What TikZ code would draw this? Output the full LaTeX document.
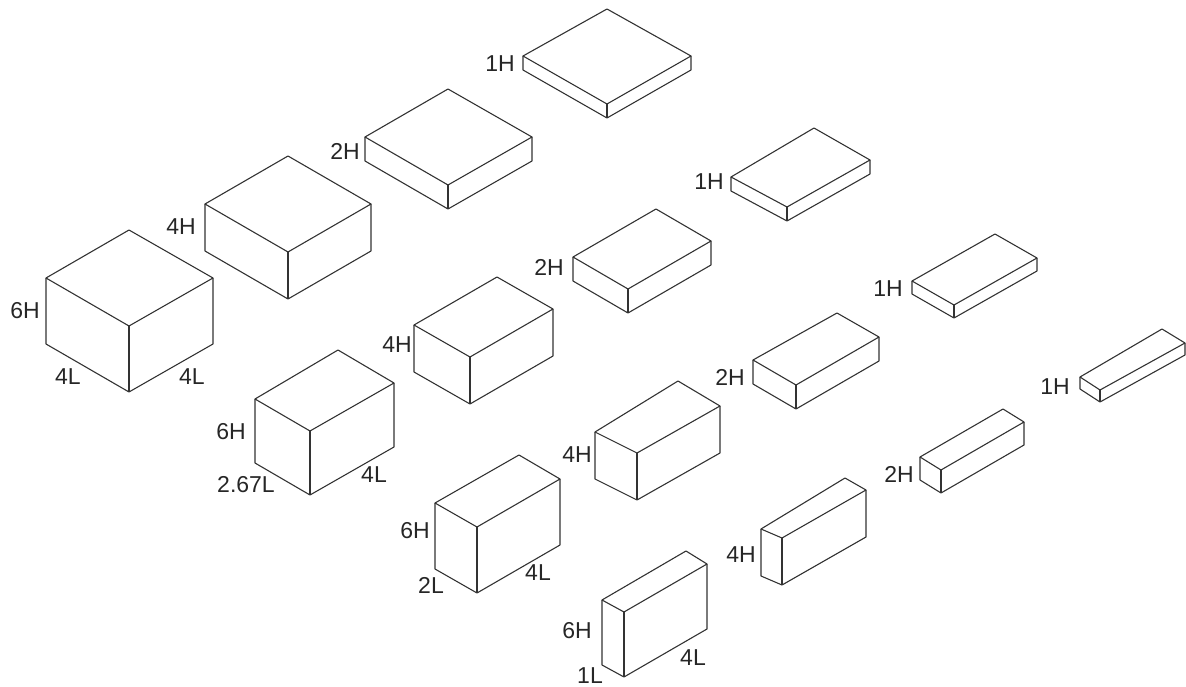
\documentclass[tikz,border=0pt]{standalone}
\usepackage{fontspec}
\setmainfont{Liberation Sans}
\usetikzlibrary{calc}

\begin{document}
\begin{tikzpicture}[
    x=1pt,
    y=-1pt,
    block/.style={draw=black!80, line width=1.1pt, line join=round},
    every node/.style={font=\fontsize{23}{26}\selectfont, text=black!85, inner sep=0pt}
]
\useasboundingbox (0,0) rectangle (1186,687);

%---------------- Blocks: left, top, right, front corners and height ----------------
\foreach \name/\lx/\ly/\tx/\ty/\rx/\ry/\fx/\fy/\h in {
    Aa/523/56/607/9/691/56/607/104/14,
    Ab/365/137/448/89/532/137/448/185/24,
    Ac/205/204/288/156/371/204/288/252/47,
    Ad/46/278/129/230/213/278/129/326/66,
    Ba/731/177/814/128/870/160/787/207/14,
    Bb/573/257/656/209/711/241/628/289/24,
    Bc/414/325/497/277/553/309/470/357/47,
    Bd/255/399/338/350/394/383/310/431/64,
    Ca/912/281/995/234/1037/258/954/305/13,
    Cb/753/360/837/313/879/337/796/385/24,
    Cc/595/432/678/381/720/406/637/453/47,
    Cd/435/503/519/455/560/479/477/527/66,
    Da/1080/377/1162/329/1185/343/1100/390/12,
    Db/920/457/1003/409/1024/422/941/470/23,
    Dc/761/529/845/478/866/490/782/538/47,
    Dd/602/600/686/551/707/564/624/612/65} {
    \coordinate (\name l) at (\lx,\ly);
    \coordinate (\name t) at (\tx,\ty);
    \coordinate (\name r) at (\rx,\ry);
    \coordinate (\name f) at (\fx,\fy);
    \draw[block] (\name l) -- (\name t) -- (\name r) -- (\name f) -- cycle;
    \draw[block] (\name l) -- ++(0,\h) -- ($(\name f)+(0,\h)$) -- ($(\name r)+(0,\h)$) -- (\name r);
    \draw[block] (\name f) -- ++(0,\h);
}

%---------------- Height labels ----------------
\foreach \name/\x/\y/\lab in {
    hAa/500/64/1H, hAb/345/151/2H, hAc/181/227/4H, hAd/25/311/6H,
    hBa/709/182/1H, hBb/549/267/2H, hBc/397/345/4H, hBd/231/432/6H,
    hCa/888/289/1H, hCb/730/377/2H, hCc/577/455/4H, hCd/415/531/6H,
    hDa/1055/387/1H, hDb/899/474/2H, hDc/741/555/4H, hDd/577/631/6H} {
    \node (\name) at (\x,\y) {\lab};
}

%---------------- Length labels ----------------
\foreach \name/\x/\y/\lab in {
    wAd/68/377/4L, dAd/192/377/4L,
    wBd/246/485/2.67L, dBd/374/475/4L,
    wCd/431/585/2L, dCd/538/573/4L,
    wDd/590/676/1L, dDd/693/658/4L} {
    \node (\name) at (\x,\y) {\lab};
}
\end{tikzpicture}
\end{document}
